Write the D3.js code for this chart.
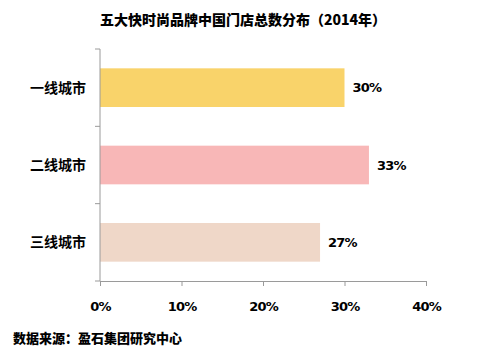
<!DOCTYPE html>
<html>
<head>
<meta charset="utf-8">
<script src="https://cdn.jsdelivr.net/npm/d3@7"></script>
<style>
  body { margin: 0; background: #fff; }
  svg { display: block; font-family: "Noto Sans CJK SC", "Liberation Sans", sans-serif; }
</style>
</head>
<body>
<svg id="chart" width="500" height="352"></svg>
<script>
// data
const categories = ['一线城市', '二线城市', '三线城市'];
const shares = [30, 33, 27];
const barColors = ['#f9d36a', '#f8b7b7', '#efd7c8'];
const xTicks = [0, 10, 20, 30, 40];

const svg = d3.select('#chart');
const margin = { top: 49, right: 74, bottom: 71, left: 100 };
const width = 500, height = 352;
const innerWidth = width - margin.left - margin.right;
const innerHeight = height - margin.top - margin.bottom;

const g = svg.append('g')
    .attr('transform', `translate(${margin.left},${margin.top})`);

const x = d3.scaleLinear().domain([0, 40]).range([0, innerWidth]);
const y = d3.scaleBand().domain(categories).range([0, innerHeight]).paddingInner(0.5).paddingOuter(0.25);

const numFont = '"DejaVu Sans", sans-serif';

// title
svg.append('text')
    .attr('x', 243)
    .attr('y', 25)
    .attr('text-anchor', 'middle')
    .style('font-size', '14px')
    .style('font-weight', '900')
    .text('五大快时尚品牌中国门店总数分布（2014年）');

// bars
g.selectAll('.bar')
    .data(categories)
    .join('rect')
    .attr('class', 'bar')
    .attr('x', 0)
    .attr('y', d => y(d))
    .attr('width', (d, i) => x(shares[i]))
    .attr('height', y.bandwidth())
    .attr('fill', (d, i) => barColors[i]);

// value labels
g.selectAll('.value')
    .data(categories)
    .join('text')
    .attr('class', 'value')
    .attr('x', (d, i) => x(shares[i]) + 8)
    .attr('y', d => y(d) + y.bandwidth() / 2)
    .attr('dy', '0.35em')
    .style('font-size', '13px')
    .style('font-weight', '700')
    .style('letter-spacing', '-0.8px')
    .style('font-family', numFont)
    .text((d, i) => shares[i] + '%');

// y axis: line + ticks between categories
const step = y.step();
const yAxis = g.append('g');
yAxis.append('line')
    .attr('x1', 0).attr('x2', 0)
    .attr('y1', 0).attr('y2', innerHeight)
    .attr('stroke', '#9a9a9a');
yAxis.selectAll('.ytick')
    .data(d3.range(categories.length + 1))
    .join('line')
    .attr('class', 'ytick')
    .attr('x1', -5).attr('x2', 0)
    .attr('y1', i => i * step).attr('y2', i => i * step)
    .attr('stroke', '#9a9a9a');

g.selectAll('.cat')
    .data(categories)
    .join('text')
    .attr('class', 'cat')
    .attr('x', -14)
    .attr('y', d => y(d) + y.bandwidth() / 2)
    .attr('dy', '0.35em')
    .attr('text-anchor', 'end')
    .style('font-size', '14px')
    .style('font-weight', '700')
    .text(d => d);

// x axis
const xAxis = g.append('g')
    .attr('transform', `translate(0,${innerHeight})`)
    .call(d3.axisBottom(x).tickValues(xTicks).tickSize(5).tickSizeOuter(0).tickPadding(16).tickFormat(d => d + '%'));
xAxis.select('.domain').attr('stroke', '#9a9a9a');
xAxis.selectAll('.tick line').attr('stroke', '#9a9a9a');
xAxis.selectAll('.tick text')
    .attr('fill', '#000')
    .style('font-size', '13px')
    .style('font-weight', '700')
    .style('letter-spacing', '-0.8px')
    .style('font-family', numFont);

// source note
svg.append('text')
    .attr('x', 13)
    .attr('y', 343)
    .style('font-size', '13px')
    .style('font-weight', '900')
    .text('数据来源：盈石集团研究中心');
</script>
</body>
</html>
